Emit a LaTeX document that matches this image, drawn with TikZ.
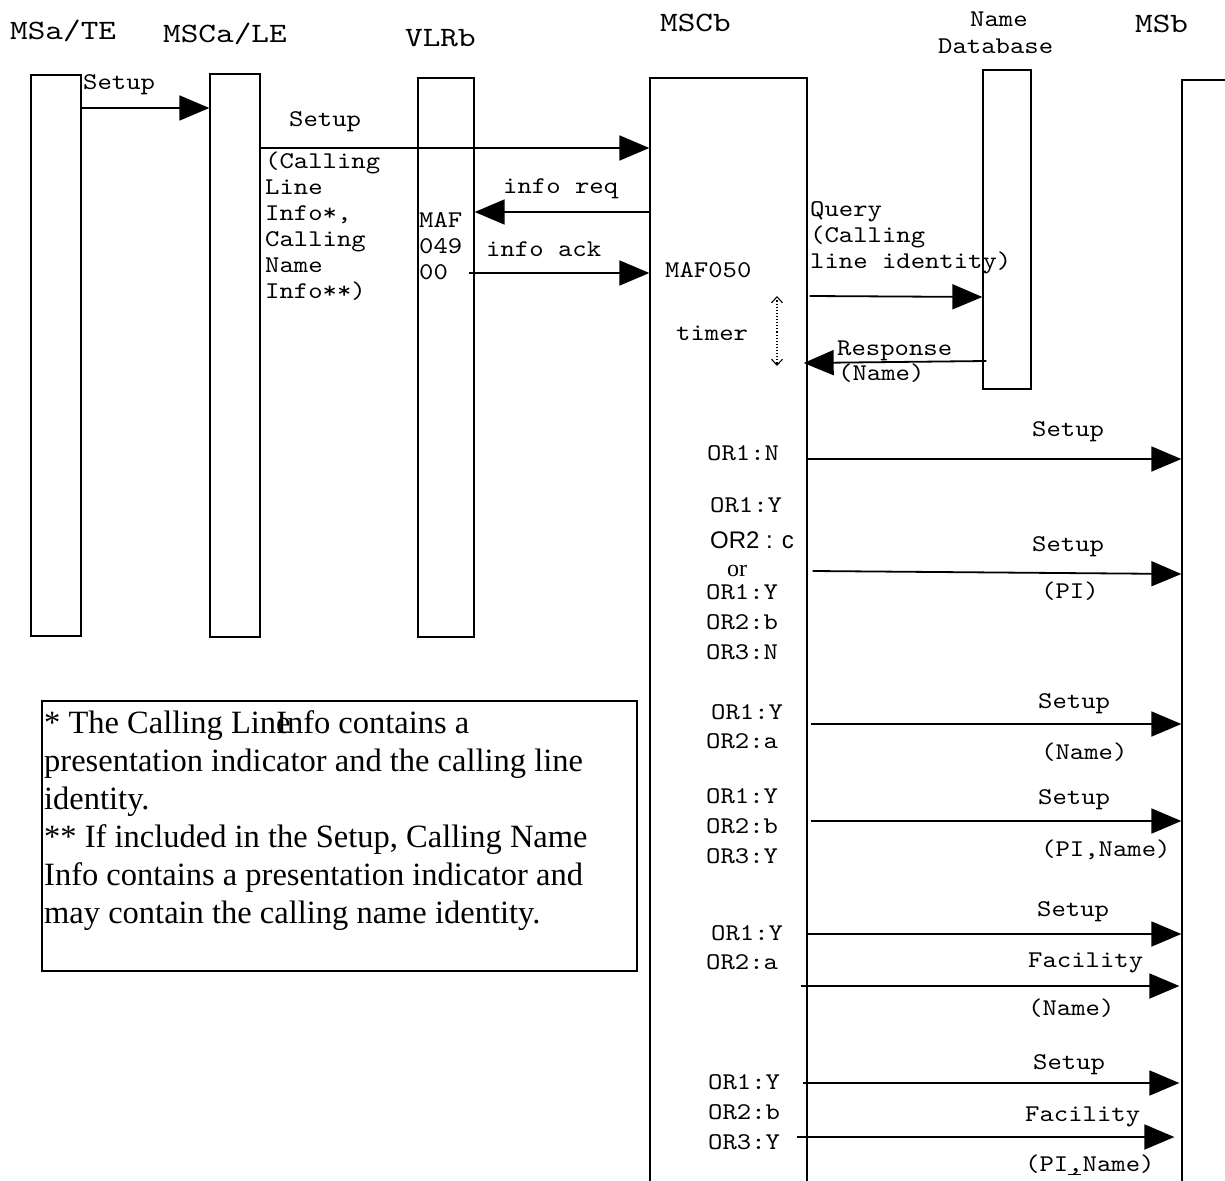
\documentclass[tikz,border=0pt]{standalone}
\usepackage{fontspec}
\setmainfont{Liberation Serif}
\newfontfamily\mono[FakeStretch=1.14]{lmmono10-regular.otf}
\newfontfamily\monowide[FakeStretch=1.2]{lmmono10-regular.otf}
\newfontfamily\sansf{Liberation Sans}
\usetikzlibrary{arrows.meta}
\begin{document}
\begin{tikzpicture}[x=1pt,y=-1pt,
  lifeline/.style={draw, line width=1.3pt, inner sep=0pt},
  msg/.style={line width=1.8pt, -{Triangle[length=30pt,width=25pt]}},
  lbl/.style={font=\mono\fontsize{24}{26}\selectfont, anchor=base west, inner sep=0pt},
  hdr/.style={font=\monowide\fontsize{28}{30}\selectfont, anchor=base west, inner sep=0pt},
  notetxt/.style={font=\fontsize{32.5}{38}\selectfont, anchor=base west, inner sep=0pt},
  timerarrow/.style={dotted, line width=1.1pt, {Straight Barb[length=6pt,width=11pt]}-{Straight Barb[length=6pt,width=11pt]}}
]
\useasboundingbox (0,0) rectangle (1225,1180);

% lifelines
\node[lifeline, minimum width=50pt, minimum height=561pt] (msa) at (56,355.5) {};
\node[lifeline, minimum width=50pt, minimum height=563pt] (msca) at (235,355.5) {};
\node[lifeline, minimum width=56pt, minimum height=559pt] (vlrb) at (446,357.5) {};
\node[lifeline, minimum width=157pt, minimum height=1112pt] (mscb) at (728.5,634) {};
\node[lifeline, minimum width=48pt, minimum height=319pt] (namedb) at (1007,229.5) {};
\node[lifeline, minimum width=63pt, minimum height=1110pt] (msb) at (1213.5,635) {};

% headers
\node[hdr] (hmsa) at (10,40) {MSa/TE};
\node[hdr] (hmsca) at (163,43) {MSCa/LE};
\node[hdr] (hvlrb) at (405,47) {VLRb};
\node[hdr] (hmscb) at (660,32) {MSCb};
\node[lbl] (hname1) at (970,27) {Name};
\node[lbl] (hname2) at (938,54) {Database};
\node[hdr] (hmsb) at (1135,33) {MSb};

% note box
\node[draw, line width=1.2pt, minimum width=595pt, minimum height=270pt, inner sep=0pt] (notebox) at (339.5,836) {};
\node[notetxt] (n1) at (44,733) {* The Calling Lin\makebox[0pt][l]{e}Info contains a};
\node[notetxt] (n2) at (44,771) {presentation indicator and the calling line};
\node[notetxt] (n3) at (44,809) {identity.};
\node[notetxt] (n4) at (44,847) {** If included in the Setup, Calling Name};
\node[notetxt] (n5) at (44,885) {Info contains a presentation indicator and};
\node[notetxt] (n6) at (44,923) {may contain the calling name identity.};

% left part messages
\draw[msg] (msa.east |- 0,108) -- (msca.west |- 0,108);
\node[lbl] (l1) at (83,90) {Setup};
\draw[msg] (msca.east |- 0,148) -- (mscb.west |- 0,148);
\node[lbl] (l2) at (289,127) {Setup};
\node[lbl] (c1) at (265,168) {(Calling};
\node[lbl] (c2) at (265,194) {Line};
\node[lbl] (c3) at (265,220) {Info*,};
\node[lbl] (c4) at (265,246) {Calling};
\node[lbl] (c5) at (265,272) {Name};
\node[lbl] (c6) at (265,298) {Info**)};

\draw[msg] (mscb.west |- 0,212) -- (vlrb.east |- 0,212);
\node[lbl] (l3) at (503,193) {info req};
\draw[msg] ([xshift=-6pt]vlrb.east |- 0,273) -- (mscb.west |- 0,273);
\node[lbl] (l4) at (486,256) {info ack};
\node[lbl] (m1) at (419,227) {MAF};
\node[lbl] (m2) at (419,253) {049};
\node[lbl] (m3) at (419,279) {00};
\node[lbl] (m4) at (665,277) {MAF050};

% name database
\draw[msg] ([xshift=2pt]mscb.east |- 0,296) -- (namedb.west |- 0,297);
\node[lbl] (q1) at (810,216) {Query};
\node[lbl] (q2) at (810,242) {(Calling};
\node[lbl] (q3) at (810,268) {line identity)};
\draw[msg] ([xshift=4pt]namedb.west |- 0,361) -- ([xshift=-4pt]mscb.east |- 0,363);
\node[lbl] (r1) at (837,355) {Response};
\node[lbl] (r2) at (838,380) {(Name)};
\coordinate (t1) at (777,296);
\coordinate (t2) at (777,366);
\draw[timerarrow] (t1) -- (t2);
\node[lbl] (tm) at (676,340) {timer};

% MSb messages
\draw[msg] ([xshift=-1pt]mscb.east |- 0,459) -- (msb.west |- 0,459);
\node[lbl] (s1) at (1032,436) {Setup};
\node[lbl] (o1) at (707,460) {OR1:N};

\draw[msg] ([xshift=5pt]mscb.east |- 0,571) -- (msb.west |- 0,574);
\node[lbl] (s2) at (1032,551) {Setup};
\node[lbl] (p2) at (1041,598) {(PI)};
\node[lbl] (o2a) at (710,512) {OR1:Y};
\node[font=\sansf\fontsize{24}{26}\selectfont, anchor=base west, inner sep=0pt] (o2b) at (710,548) {OR2 : c};
\node[font=\fontsize{24}{26}\selectfont, anchor=base west, inner sep=0pt] (o2c) at (727,576) {or};
\node[lbl] (o2d) at (706,599) {OR1:Y};
\node[lbl] (o2e) at (706,629) {OR2:b};
\node[lbl] (o2f) at (706,659) {OR3:N};

\draw[msg] ([xshift=3pt]mscb.east |- 0,724) -- (msb.west |- 0,724);
\node[lbl] (s3) at (1038,708) {Setup};
\node[lbl] (p3) at (1041,759) {(Name)};
\node[lbl] (o3a) at (711,719) {OR1:Y};
\node[lbl] (o3b) at (706,748) {OR2:a};

\draw[msg] ([xshift=3pt]mscb.east |- 0,821) -- (msb.west |- 0,821);
\node[lbl] (s4) at (1038,804) {Setup};
\node[lbl] (p4) at (1041,856) {(PI,Name)};
\node[lbl] (o4a) at (706,803) {OR1:Y};
\node[lbl] (o4b) at (706,833) {OR2:b};
\node[lbl] (o4c) at (706,863) {OR3:Y};

\draw[msg] ([xshift=-1pt]mscb.east |- 0,934) -- (msb.west |- 0,934);
\node[lbl] (s5) at (1037,916) {Setup};
\draw[msg] ([xshift=-7pt]mscb.east |- 0,986) -- ([xshift=-2pt]msb.west |- 0,986);
\node[lbl] (f5) at (1028,967) {Facility};
\node[lbl] (p5) at (1028,1015) {(Name)};
\node[lbl] (o5a) at (711,940) {OR1:Y};
\node[lbl] (o5b) at (706,969) {OR2:a};

\draw[msg] ([xshift=-5pt]mscb.east |- 0,1083) -- ([xshift=-2pt]msb.west |- 0,1083);
\node[lbl] (s6) at (1033,1069) {Setup};
\draw[msg] ([xshift=-11pt]mscb.east |- 0,1137) -- ([xshift=-7pt]msb.west |- 0,1137);
\node[lbl] (f6) at (1025,1121) {Facility};
\node[lbl] (p6) at (1025,1171) {(PI\makebox[0pt][l]{\rule[-4pt]{13pt}{1pt}},Name)};
\node[lbl] (o6a) at (708,1089) {OR1:Y};
\node[lbl] (o6b) at (708,1119) {OR2:b};
\node[lbl] (o6c) at (708,1149) {OR3:Y};
\end{tikzpicture}
\end{document}
